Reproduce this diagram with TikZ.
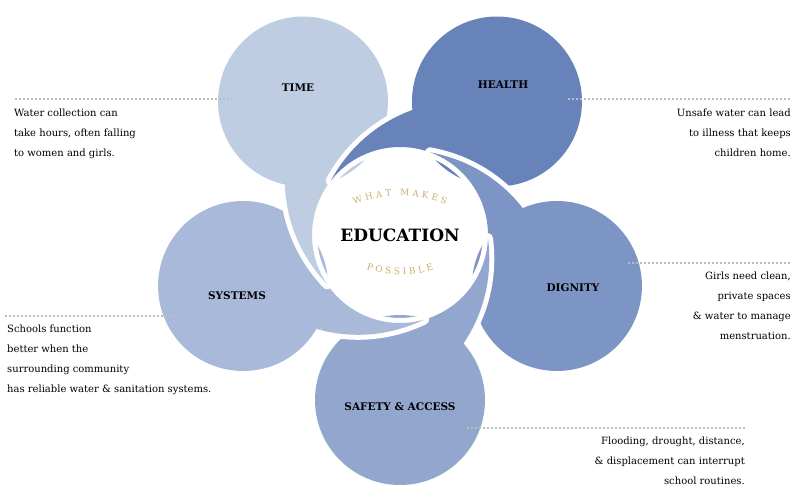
\documentclass[tikz,border=0pt]{standalone}
\usepackage{fontspec}
\setmainfont{DejaVu Serif}
\usetikzlibrary{decorations.text}
\definecolor{cTime}{HTML}{BFCDE3}
\definecolor{cHealth}{HTML}{6783B9}
\definecolor{cDign}{HTML}{7D95C4}
\definecolor{cSafe}{HTML}{93A7CE}
\definecolor{cSys}{HTML}{A9B9D9}
\definecolor{cGold}{HTML}{C9B16C}
\definecolor{cDot}{HTML}{BDBDBD}
\newcommand\tailpath[1]{plot[domain=-88:10,samples=40] ({#1+\x}:88) -- ({#1}:165) -- ({#1-18}:139.8) -- plot[domain=70:0,samples=40] ({#1-88+\x}:{88+0.25*\x+0.007*\x*\x}) -- cycle}
\newcommand\mypetal[2]{%
 \draw[white,line width=10] (#1:165) circle[radius=85];
 \draw[white,line width=10,line join=round] \tailpath{#1};
 \fill[#2] (#1:165) circle[radius=85];
 \fill[#2] \tailpath{#1};}
\tikzset{
 lab/.style={font=\bfseries\fontsize{10.5}{12}\selectfont,text=black},
 note/.style={font=\fontsize{10}{20}\selectfont,text=black,inner sep=0},
 dots/.style={cDot,line width=2.5,dash pattern=on 2 off 2}
}
\begin{document}
\begin{tikzpicture}[x=1pt,y=-1pt]
\fill[white] (0,0) rectangle (800,500);
\begin{scope}[shift={(400,235)}]
 \mypetal{162}{cSys}
 \mypetal{234}{cTime}
 \mypetal{306}{cHealth}
 \mypetal{378}{cDign}
 \mypetal{450}{cSafe}
 \begin{scope}
  \clip (0,0) -- (60:220) -- (130:220) -- cycle;
  \mypetal{162}{cSys}
 \end{scope}
\end{scope}
% labels
\node[lab] (time) at (298,88) {TIME};
\node[lab] (health) at (503,85) {HEALTH};
\node[lab] (dignity) at (573,288) {DIGNITY};
\node[lab] (safety) at (400,407) {SAFETY \& ACCESS};
\node[lab] (systems) at (237,296) {SYSTEMS};
\node[font=\bfseries\fontsize{17}{20}\selectfont] (edu) at (400,235) {EDUCATION};
\path[decorate,decoration={text along path,text align=center,
  text={|\fontsize{9}{10}\selectfont\color{cGold}|W H A T {} {} M A K E S}}]
  (332,220) .. controls (360,188) and (440,188) .. (468,220);
\path[decorate,decoration={text along path,text align=center,
  text={|\fontsize{9}{10}\selectfont\color{cGold}|P O S S I B L E}}]
  (345,258) .. controls (372,280) and (428,280) .. (455,258);
% dotted leaders
\coordinate (t1) at (15,99); \coordinate (t2) at (232,99);
\coordinate (h1) at (568,99); \coordinate (h2) at (790,99);
\coordinate (d1) at (628,263); \coordinate (d2) at (790,263);
\coordinate (s1) at (5,316); \coordinate (s2) at (178,316);
\coordinate (a1) at (467,428); \coordinate (a2) at (745,428);
\draw[dots] (t1) -- (t2);
\draw[dots] (h1) -- (h2);
\draw[dots] (d1) -- (d2);
\draw[dots] (s1) -- (s2);
\draw[dots] (a1) -- (a2);
% notes
\node[note,anchor=north west,align=left] (ntime) at (14,109) {Water collection can\\take hours, often falling\\to women and girls.};
\node[note,anchor=north east,align=right] (nhealth) at (791,109) {Unsafe water can lead\\to illness that keeps\\children home.};
\node[note,anchor=north east,align=right] (ndign) at (791,272) {Girls need clean,\\private spaces\\\& water to manage\\menstruation.};
\node[note,anchor=north west,align=left] (nsys) at (7,325) {Schools function\\better when the\\surrounding community\\has reliable water \& sanitation systems.};
\node[note,anchor=north east,align=right] (nsafe) at (745,437) {Flooding, drought, distance,\\\& displacement can interrupt\\school routines.};
\end{tikzpicture}
\end{document}
